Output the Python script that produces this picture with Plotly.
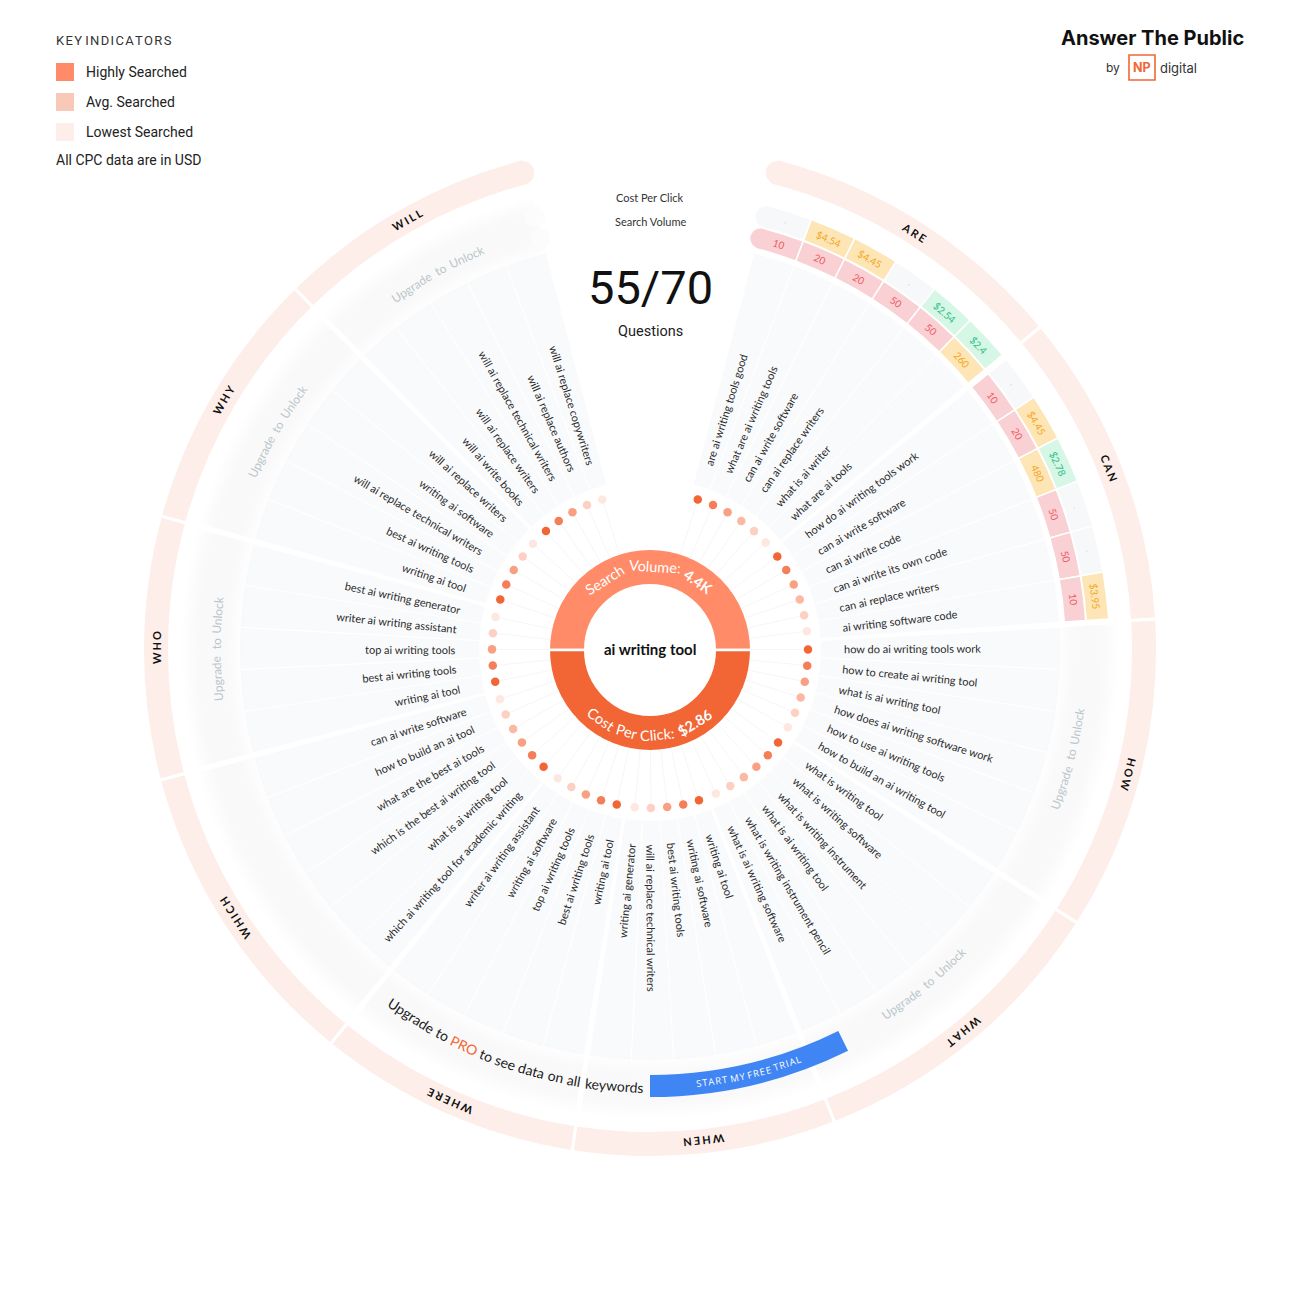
import math
import plotly.graph_objects as go

# ---------- data ----------
group_names = ["ARE", "CAN", "HOW", "WHAT", "WHEN", "WHERE", "WHICH", "WHO", "WHY", "WILL"]
q_are = ["are ai writing tools good", "what are ai writing tools", "can ai write software",
         "can ai replace writers", "what is ai writer", "what are ai tools"]
q_can = ["how do ai writing tools work", "can ai write software", "can ai write code",
         "can ai write its own code", "can ai replace writers", "ai writing software code"]
q_how = ["how do ai writing tools work", "how to create ai writing tool", "what is ai writing tool",
         "how does ai writing software work", "how to use ai writing tools", "how to build an ai writing tool"]
q_what = ["what is writing tool", "what is writing software", "what is writing instrument",
          "what is ai writing tool", "what is writing instrument pencil", "what is ai writing software"]
q_when = ["writing ai tool", "writing ai software", "best ai writing tools",
          "will ai replace technical writers", "writing ai generator"]
q_where = ["writing ai tool", "best ai writing tools", "top ai writing tools",
           "writing ai software", "writer ai writing assistant"]
q_which = ["which ai writing tool for academic writing", "what is ai writing tool",
           "which is the best ai writing tool", "what are the best ai tools",
           "how to build an ai tool", "can ai write software"]
q_who = ["writing ai tool", "best ai writing tools", "top ai writing tools",
         "writer ai writing assistant", "best ai writing generator"]
q_why = ["writing ai tool", "best ai writing tools", "will ai replace technical writers",
         "writing ai software", "will ai replace writers"]
q_will = ["will ai write books", "will ai replace writers", "will ai replace technical writers",
          "will ai replace authors", "will ai replace copywriters"]
groups = [q_are, q_can, q_how, q_what, q_when, q_where, q_which, q_who, q_why, q_will]

levels_six = [1, 2, 3, 4, 5, 6]
levels_five = [1, 2, 3, 5, 6]

search_are = [10, 20, 20, 50, 50, 260]
search_can = [10, 20, 480, 50, 50, 10]
cpc_are = [None, 4.54, 4.45, None, 2.54, 2.4]
cpc_can = [None, 4.45, 2.78, None, None, 3.95]
unlock_groups = ["HOW", "WHAT", "WHO", "WHY", "WILL"]

answered = 55
total = 70
root_kw = "ai writing tool"
root_volume = "4.4K"
root_cpc = "$2.86"

# ---------- style / layout ----------
FONT = "Lato"
SIZE = 1300
STEP = 5.9
GAP = 0.69
START = 17.6
level_col = {1: "#f26535", 2: "#f47e58", 3: "#f9a083", 4: "#fbb9a4", 5: "#fcd0c2", 6: "#fde8e1"}
RING = "#fdeee9"
PANEL = "#f9fafc"

EM = dict(a=.49, b=.55, c=.46, d=.55, e=.51, f=.32, g=.50, h=.55, i=.24, j=.24, k=.49, l=.24, m=.80,
          n=.55, o=.56, p=.55, q=.55, r=.36, s=.42, t=.34, u=.55, v=.49, w=.74, x=.48, y=.49, z=.44,
          S=.55, C=.65, P=.58, V=.66, U=.73, K=.64, T=.58, A=.68, R=.62, M=.88, Y=.6, F=.54, E=.56, I=.26, L=.48,
          O=.78)
EM.update({" ": .19, ".": .24, ":": .26, "$": .58, "\u200a": .1})
for digit in "0123456789":
    EM[digit] = .58


def tw(s, size):
    return sum(EM.get(c, .62) for c in s) * size * 1.045


annotations = []


def put(text, r, theta, angle=0, size=11, color="#262626", family=FONT):
    a = (angle + 180) % 360 - 180
    annotations.append(dict(
        text=text, xref="paper", yref="paper",
        x=0.5 + r * math.sin(math.radians(theta)) / SIZE,
        y=0.5 + r * math.cos(math.radians(theta)) / SIZE,
        xanchor="center", yanchor="middle", textangle=a, showarrow=False,
        font=dict(family=family, size=size, color=color)))


def abs_text(text, px, py, size=14, color="#222", family="Roboto", anchor="center"):
    annotations.append(dict(text=text, xref="paper", yref="paper",
                            x=(px - 2 if anchor == "left" else px) / SIZE, y=1 - py / SIZE,
                            xanchor=anchor, yanchor="middle", showarrow=False,
                            font=dict(family=family, size=size, color=color)))


def curved(words, r, mid, span, flip, size, color="#262626", family=FONT):
    """Place words along an arc; each item is (plain, markup) and arc length span is in degrees."""
    widths = [tw(w[0], size) for w in words]
    length = math.radians(span) * r
    gap = (length - sum(widths)) / max(1, len(words) - 1)
    pos = -length / 2
    sign = -1 if flip else 1
    for w, wd in zip(words, widths):
        th = mid + sign * math.degrees((pos + wd / 2) / r)
        put(w[1], r, th, th - 180 if flip else th, size, color, family)
        pos += wd + gap


# angles derived from group sizes
thetas = []
t = START
for g in groups:
    row = []
    for _ in g:
        row.append(t)
        t += STEP
    thetas.append(row)
    t += GAP

fig = go.Figure()


def band(theta, width, base, thick, color, line="white", lw=1.0):
    """Bar from base to base+thick; the white stroke eats lw/2 on each edge, so compensate."""
    fig.add_trace(go.Barpolar(theta=theta, width=width, base=base - lw / 2, r=[thick + lw] * len(theta),
                              marker=dict(color=color, line=dict(color=line, width=lw)),
                              hoverinfo="skip", showlegend=False))


# outer keyword ring
edges = [14.5]
for i in range(len(groups) - 1):
    edges.append((thetas[i][-1] + thetas[i + 1][0]) / 2)
edges.append(345.5)
mids = [(edges[i] + edges[i + 1]) / 2 for i in range(len(groups))]
widths = [edges[i + 1] - edges[i] for i in range(len(groups))]
band(mids, widths, 482, 24, RING, lw=3)
fig.add_trace(go.Scatterpolar(r=[494, 494], theta=[15.0, 345.0], mode="markers",
                              marker=dict(size=24, color=RING, opacity=1, line=dict(width=0)),
                              hoverinfo="skip", showlegend=False))
label_mids = [(thetas[i][0] + thetas[i][-1]) / 2 for i in range(len(groups))]
for name, m in zip(group_names, label_mids):
    label = "\u2009\u200a".join(name)
    put(f"<b>{label}</b>", 494, m, m, 11, "#111111")

# question panel
for row in thetas:
    band(row, [STEP] * len(row), 171, 239, PANEL, lw=1.0)

# soft locked zones
for row, name in zip(thetas[2:], group_names[2:]):
    mid = (row[0] + row[-1]) / 2
    w = row[-1] - row[0] + STEP
    for inner, thick in [(408, 60), (411, 54), (414, 48), (417, 42), (420, 36), (423, 30)]:
        fig.add_trace(go.Barpolar(theta=[mid], width=[w], base=[inner], r=[thick],
                                  marker=dict(color="rgba(240,243,246,0.08)", line=dict(width=0)),
                                  hoverinfo="skip", showlegend=False))

# search volume and CPC cells
sv_style = lambda v: ("#fde5b5", "#f5a623") if v >= 260 else ("#f9d0d3", "#ef5a64")
cpc_style = lambda v: ("#f7f8fa", "#c5ccd0") if v is None else (("#fde5b5", "#f5a623") if v >= 3 else ("#d6f6e6", "#2dbf85"))
for row, sv, cpc in [(thetas[0], search_are, cpc_are), (thetas[1], search_can, cpc_can)]:
    band(row, [STEP] * 6, 416, 20, [sv_style(v)[0] for v in sv], lw=1.5)
    band(row, [STEP] * 6, 438, 21, [cpc_style(v)[0] for v in cpc], lw=1.5)
fig.add_trace(go.Scatterpolar(r=[426, 448.5], theta=[15.0, 15.0], mode="markers",
                              marker=dict(size=[20, 21], color=["#f9d0d3", "#f7f8fa"], opacity=1, line=dict(width=0)),
                              hoverinfo="skip", showlegend=False))
fig.add_trace(go.Scatterpolar(r=[426, 448.5], theta=[345.1, 345.1], mode="markers",
                              marker=dict(size=[20, 21], color="#fcfcfd", opacity=1, line=dict(width=0)),
                              hoverinfo="skip", showlegend=False))
for row, sv, cpc in [(thetas[0], search_are, cpc_are), (thetas[1], search_can, cpc_can)]:
    for th, v, c in zip(row, sv, cpc):
        put(str(v), 426, th, th, 10, sv_style(v)[1])
        if c is None:
            put("-", 448.5, th, th, 7, cpc_style(c)[1])
        else:
            put(f"${c:g}", 448.5, th, th, 10, cpc_style(c)[1])

# rays and dots
ray_r, ray_t, dot_r, dot_t, dot_c = [], [], [], [], []
for row in thetas:
    lv = levels_six if len(row) == 6 else levels_five
    for th, l in zip(row, lv):
        ray_r += [100, 155, None]
        ray_t += [th, th, None]
        dot_r.append(158)
        dot_t.append(th)
        dot_c.append(level_col[l])
fig.add_trace(go.Scatterpolar(r=ray_r, theta=ray_t, mode="lines", line=dict(color="#f6f6f6", width=1),
                              hoverinfo="skip", showlegend=False))
fig.add_trace(go.Scatterpolar(r=dot_r, theta=dot_t, mode="markers",
                              marker=dict(size=8.5, color=dot_c, opacity=1, line=dict(width=0)),
                              hoverinfo="skip", showlegend=False))

# centre donut
band([0], [180], 66, 34, "#ff8b68", lw=2.5)
band([180], [180], 66, 34, "#f26635", lw=2.5)

# blue trial arc
band([166.85], [26.3], 425, 22, "#3f85f3", lw=0)

# question labels
R0 = 194
for row, qs in zip(thetas, groups):
    for th, q in zip(row, qs):
        put(q, R0 + tw(q, 11) / 2, th, th - 90 if th <= 180 else th - 270, 11, "#2a2a2a")

# curved texts
curved([("Search", "Search"), ("Volume:", "Volume:"), (root_volume, f"<b>{root_volume}</b>")],
       84, 359, 93, False, 14.5, "white")
curved([("Cost", "Cost"), ("Per", "Per"), ("Click:", "Click:"), (root_cpc, f"<b>{root_cpc}</b>")],
       85, 180, 90, True, 14.5, "white")
put(f"<b>{root_kw}</b>", 1, 0, 0, 15, "#111111")

for name, row in zip(group_names, thetas):
    if name in unlock_groups:
        m = (row[0] + row[-1]) / 2
        curved([(w, w) for w in "Upgrade to Unlock".split()], 434, m, 14, m < 225, 12, "#b9c6cb")

cta = ["Upgrade", "to", "PRO", "to", "see", "data", "on", "all", "keywords"]
curved([(w, '<span style="color:#f26635">PRO</span>' if w == "PRO" else w) for w in cta],
       437, 198.7, 36, True, 14, "#1c1c1c")
curved([("\u200a".join(w), "\u200a".join(w)) for w in "START MY FREE TRIAL".split()],
       436, 166.9, 14.4, True, 9.5, "white", "Open Sans")

# header texts
abs_text("Cost Per Click", 650, 198, 11, "#333", FONT)
abs_text("Search Volume", 650, 221.5, 11, "#333", FONT)
abs_text(f"{answered}/{total}", 650, 287, 47, "#111", "Roboto")
abs_text("Questions", 650, 331, 14.5, "#222", "Roboto")

# key
abs_text("K\u200aE\u200aY I\u200aN\u200aD\u200aI\u200aC\u200aA\u200aT\u200aO\u200aR\u200aS", 56, 40, 13, "#333", "Roboto", "left")
key_names = ["Highly Searched", "Avg. Searched", "Lowest Searched"]
key_cols = ["#ff8b68", "#f8c9b8", "#fdeee9"]
shapes = []
for i, (k, c) in enumerate(zip(key_names, key_cols)):
    y = 72 + 30 * i
    shapes.append(dict(type="rect", xref="paper", yref="paper", x0=56 / SIZE, x1=74 / SIZE,
                       y0=1 - (y + 9) / SIZE, y1=1 - (y - 9) / SIZE, fillcolor=c, line_width=0))
    abs_text(k, 86, y, 14, "#222", "Roboto", "left")
abs_text("All CPC data are in USD", 56, 160, 14, "#222", "Roboto", "left")

# logo
abs_text("<b>Answer The Public</b>", 1152, 38, 20, "#111", "Inter")
abs_text("by", 1113, 67, 12, "#333", "Inter")
abs_text("<b>NP</b>", 1142, 67.5, 12.5, "#f26635", "Inter")
abs_text("digital", 1178, 67.5, 13, "#333", "Inter")
shapes.append(dict(type="rect", xref="paper", yref="paper", x0=1129 / SIZE, x1=1155 / SIZE,
                   y0=1 - 80 / SIZE, y1=1 - 55 / SIZE, fillcolor="rgba(0,0,0,0)",
                   line=dict(color="#f26635", width=1.6)))

fig.update_layout(
    width=SIZE, height=SIZE, margin=dict(l=0, r=0, t=0, b=0), paper_bgcolor="white", plot_bgcolor="white",
    showlegend=False, annotations=annotations, shapes=shapes,
    polar=dict(domain=dict(x=[0, 1], y=[0, 1]), bgcolor="rgba(0,0,0,0)", barmode="overlay",
               radialaxis=dict(range=[0, 650], visible=False),
               angularaxis=dict(rotation=90, direction="clockwise", visible=False)))

fig.write_html("out.html", post_script="document.body.style.margin='0';", config={"displayModeBar": False})
